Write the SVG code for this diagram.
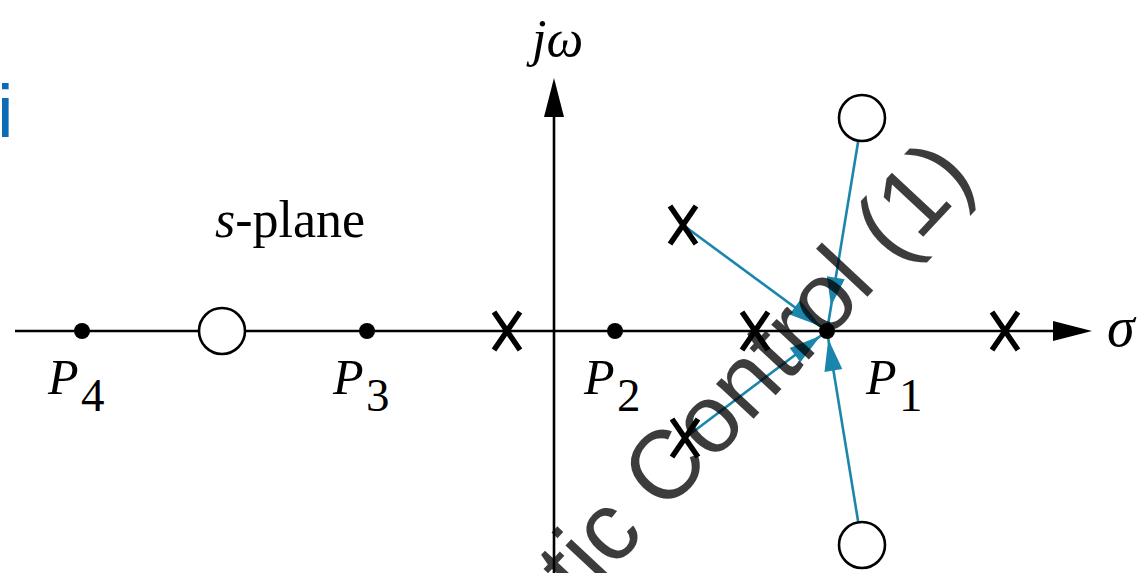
<svg xmlns="http://www.w3.org/2000/svg" width="1145" height="573" viewBox="0 0 1145 573">
<defs>
<style>
.ax{stroke:#000;stroke-width:2.6;fill:none}
.xm{stroke:#000;stroke-width:5.5;fill:none}
.dot{fill:#000}
.zero{fill:#fff;stroke:#000;stroke-width:2.6}
.bl{stroke:#1a86ab;stroke-width:2.6;fill:none}
.bh{fill:#1a86ab}
.lbl{font-family:"Liberation Serif","Times New Roman",serif;font-style:italic;fill:#000}
.sub{font-family:"Liberation Serif","Times New Roman",serif;font-style:normal;fill:#000}
.wm{font-family:"Liberation Sans",Arial,sans-serif;font-size:97px;fill:#000;opacity:0.76}
</style>
<path id="xmark" d="M-13,-19 L13,19 M-13,19 L13,-19"/>
</defs>
<rect width="1145" height="573" fill="#fff"/>
<text x="-3" y="137" font-family="Liberation Sans, Arial, sans-serif" font-size="75" fill="#0b6cb5">i</text>
<g id="connectors">
<line class="ax" x1="15" y1="331" x2="1060" y2="331"/>
<polygon points="1092,331 1053,321 1053,341" fill="#000"/>
<line class="ax" x1="554" y1="573" x2="554" y2="110"/>
<polygon points="554,78 544,117 564,117" fill="#000"/>
<line class="bl" x1="683" y1="225" x2="827" y2="331"/>
<polygon class="bh" points="820.6,326.3 789.5,314.5 800.1,300.1"/>
<line class="bl" x1="858.1" y1="141.7" x2="827" y2="331"/>
<polygon class="bh" points="831,306 826.9,276.2 844.7,279.2"/>
<line class="bl" x1="685" y1="438" x2="827" y2="331"/>
<polygon class="bh" points="820.6,335.8 800.4,362.3 789.6,347.9"/>
<line class="bl" x1="858.1" y1="521.3" x2="827" y2="331"/>
<polygon class="bh" points="828.3,338.9 842.3,369.1 824.5,371.9"/>
</g>
<g id="P4"><circle class="dot" cx="82" cy="331" r="8"/><text class="lbl" x="48" y="394" font-size="50">P</text><text class="sub" x="81" y="411" font-size="47">4</text></g>
<g id="zero-left"><circle class="zero" cx="222" cy="331" r="23"/></g>
<g id="P3"><circle class="dot" cx="367" cy="331" r="8"/><text class="lbl" x="333" y="394" font-size="50">P</text><text class="sub" x="366" y="411" font-size="47">3</text></g>
<g id="pole-a"><use href="#xmark" class="xm" x="507" y="331"/></g>
<g id="P2"><circle class="dot" cx="615" cy="331" r="8"/><text class="lbl" x="584" y="394" font-size="50">P</text><text class="sub" x="617" y="411" font-size="47">2</text></g>
<g id="pole-b"><use href="#xmark" class="xm" x="755" y="331"/></g>
<g id="P1"><circle class="dot" cx="827" cy="331" r="8"/><text class="lbl" x="866" y="394" font-size="50">P</text><text class="sub" x="899" y="411" font-size="47">1</text></g>
<g id="pole-c"><use href="#xmark" class="xm" x="1005" y="331"/></g>
<g id="pole-up"><use href="#xmark" class="xm" x="683" y="225"/></g>
<g id="pole-down"><use href="#xmark" class="xm" x="685" y="438"/></g>
<g id="zero-up"><circle class="zero" cx="862" cy="118" r="23"/></g>
<g id="zero-down"><circle class="zero" cx="862" cy="545" r="23"/></g>
<g id="labels">
<text class="lbl" x="532" y="56" font-size="52">jω</text>
<text class="lbl" x="1107" y="346" font-size="56">σ</text>
<text class="sub" x="215" y="237" font-size="52"><tspan font-style="italic">s</tspan>-plane</text>
</g>
<text class="wm" transform="translate(580,605) rotate(-47)">tic Control (1)</text>
</svg>
